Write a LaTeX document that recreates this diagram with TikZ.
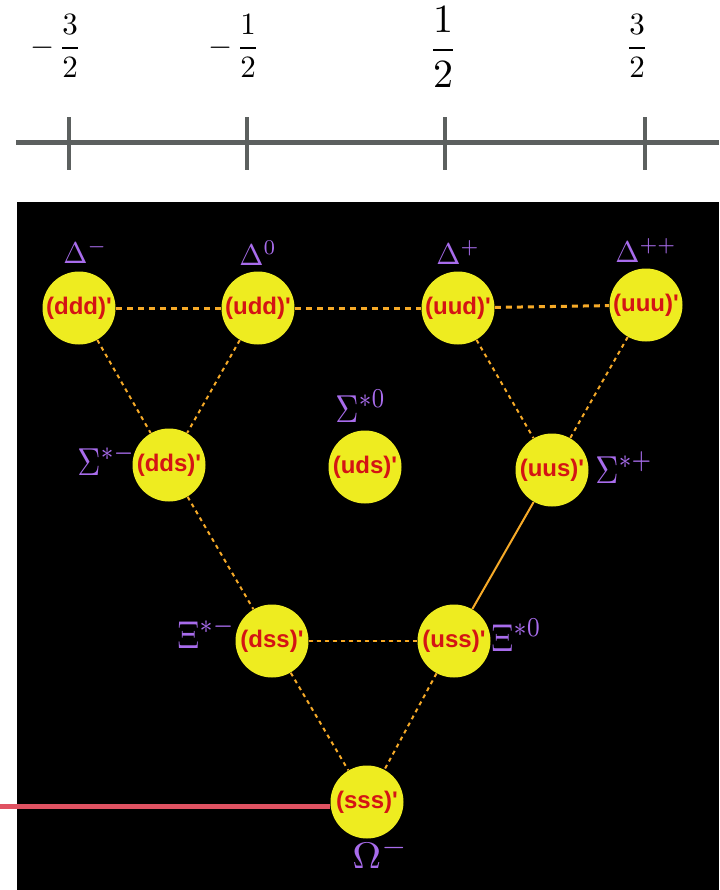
\documentclass[tikz,border=0pt]{standalone}
\usepackage{graphicx}
\usepackage{fontspec}
\newfontfamily\quarkfont{Liberation Sans}
\usepackage{tikz}
\definecolor{baryon}{RGB}{238,236,32}
\definecolor{quarkred}{RGB}{212,20,20}
\definecolor{tagpurple}{RGB}{168,108,236}
\definecolor{linkorange}{RGB}{246,170,40}
\definecolor{axisgray}{RGB}{92,96,95}
\definecolor{cutred}{RGB}{224,82,98}
\newcommand{\bigsym}[3]{\scalebox{#1}[#2]{$#3$}}

\begin{document}
\begin{tikzpicture}[
    x=0.5pt, y=-0.5pt,
    ball/.style={circle, fill=baryon, minimum size=36.5pt, inner sep=0pt, text=quarkred,
                 font=\quarkfont\bfseries\fontsize{12}{12}\selectfont},
    tag/.style={anchor=base west, inner sep=0pt, text=tagpurple},
    rung/.style={draw=linkorange, line width=1.5pt, dash pattern=on 3pt off 2.5pt},
    leg/.style={draw=linkorange, line width=1pt, dash pattern=on 2pt off 2pt},
    axistick/.style={draw=axisgray, line width=2pt},
    fraclabel/.style={inner sep=0pt}
]
\useasboundingbox (0,0) rectangle (719,890);
\fill[black] (17,202) rectangle (719,890);

\draw[axisgray, line width=2.5pt] (16,142) -- (719,142);
\foreach \x in {69,247,445,645}
  \draw[axistick] (\x,117) -- (\x,170);

\node[fraclabel] (mthree) at (70,46) {\bigsym{1.55}{1.55}{\displaystyle\llap{$\displaystyle-\mkern2mu$}\frac{3}{2}}};
\node[fraclabel] (mone) at (248,46) {\bigsym{1.55}{1.55}{\displaystyle\llap{$\displaystyle-\mkern2mu$}\frac{1}{2}}};
\node[fraclabel] (pone) at (443,47) {\bigsym{2}{2}{\displaystyle\frac{1}{2}}};
\node[fraclabel] (pthree) at (637,46) {\bigsym{1.55}{1.55}{\displaystyle\frac{3}{2}}};

\node[ball] (ddd) at (79,308) {(ddd)'};
\node[ball] (udd) at (258,308) {(udd)'};
\node[ball] (uud) at (458,308) {(uud)'};
\node[ball] (uuu) at (646,305) {(uuu)'};
\node[ball] (dds) at (169,465) {(dds)'};
\node[ball] (uds) at (365,467) {(uds)'};
\node[ball] (uus) at (552,470) {(uus)'};
\node[ball] (dss) at (272,641) {(dss)'};
\node[ball] (uss) at (454,641) {(uss)'};
\node[ball] (sss) at (367,802) {(sss)'};

\node[tag] (dltm) at (63,263) {\bigsym{1.45}{1.5}{\Delta^-}};
\node[tag] (dltz) at (239,265) {\bigsym{1.45}{1.5}{\Delta^0}};
\node[tag] (dltp) at (436,264) {\bigsym{1.45}{1.5}{\Delta^+}};
\node[tag] (dltpp) at (615,262) {\bigsym{1.45}{1.5}{\Delta^{++}}};
\node[tag] (sgmm) at (77,475) {\bigsym{1.6}{1.95}{\Sigma^{*-}}};
\node[tag] (sgmz) at (335,422) {\bigsym{1.6}{1.95}{\Sigma^{*0}}};
\node[tag] (sgmp) at (595,483) {\bigsym{1.6}{1.95}{\Sigma^{*+}}};
\node[tag] (xim) at (177,648) {\bigsym{1.65}{1.95}{\Xi^{*-}}};
\node[tag] (xiz) at (491,651) {\bigsym{1.65}{1.95}{\Xi^{*0}}};
\node[tag] (omg) at (352,868) {\bigsym{2}{1.85}{\Omega^-}};

\draw[rung] (ddd) -- (udd);
\draw[rung] (udd) -- (uud);
\draw[rung] (uud) -- (uuu);
\draw[leg] (ddd) -- (dds);
\draw[leg] (udd) -- (dds);
\draw[leg] (uud) -- (uus);
\draw[leg] (uuu) -- (uus);
\draw[leg] (dds) -- (dss);
\draw[draw=linkorange, line width=1pt] (uus) -- (uss);
\draw[leg] (dss) -- (uss);
\draw[leg] (dss) -- (sss);
\draw[leg] (uss) -- (sss);

\coordinate (cut) at (0,806);
\draw[cutred, line width=2.5pt] (cut) -- (cut -| sss.west);
\end{tikzpicture}
\end{document}
